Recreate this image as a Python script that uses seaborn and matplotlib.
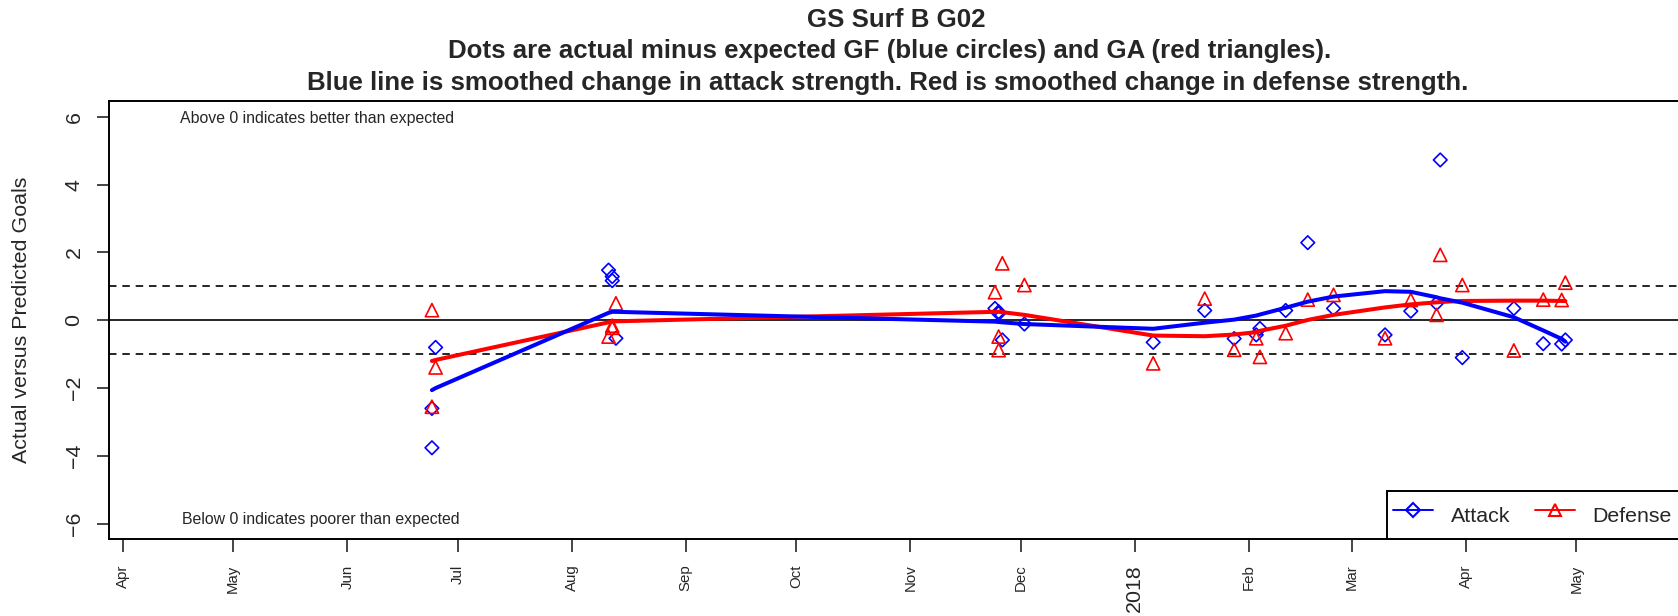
import matplotlib
matplotlib.use("Agg")
import numpy as np
import pandas as pd
import seaborn as sns
import matplotlib.pyplot as plt
import matplotlib.dates as mdates
from matplotlib.lines import Line2D

# ---------------- data ----------------
game_dates = ["2017-06-24", "2017-06-24", "2017-06-25",
              "2017-08-11", "2017-08-12", "2017-08-12", "2017-08-13",
              "2017-11-24", "2017-11-25", "2017-11-25", "2017-11-26", "2017-12-02",
              "2018-01-06", "2018-01-20", "2018-01-28", "2018-02-03", "2018-02-04",
              "2018-02-11", "2018-02-17", "2018-02-24", "2018-03-10", "2018-03-17",
              "2018-03-24", "2018-03-25", "2018-03-31", "2018-04-14", "2018-04-22",
              "2018-04-27", "2018-04-28"]
attack_diff = [-2.60, -3.76, -0.80,
               1.48, 1.29, 1.17, -0.53,
               0.35, 0.25, 0.20, -0.58, -0.11,
               -0.65, 0.29, -0.54, -0.43, -0.24,
               0.29, 2.29, 0.35, -0.43, 0.27,
               0.50, 4.73, -1.10, 0.35, -0.69,
               -0.70, -0.58]
defense_diff = [0.30, -2.55, -1.39,
                -0.48, -0.16, -0.22, 0.50,
                0.83, -0.48, -0.88, 1.68, 1.04,
                -1.27, 0.64, -0.87, -0.53, -1.08,
                -0.38, 0.61, 0.75, -0.53, 0.60,
                0.16, 1.93, 1.04, -0.89, 0.61,
                0.60, 1.11]
attack_smooth = [-2.06, -2.06, -2.00,
                 0.22, 0.25, 0.25, 0.25,
                 -0.04, -0.05, -0.05, -0.06, -0.11,
                 -0.25, -0.07, 0.02, 0.14, 0.17,
                 0.37, 0.55, 0.70, 0.86, 0.84,
                 0.68, 0.65, 0.52, 0.09, -0.30,
                 -0.55, -0.63]
defense_smooth = [-1.20, -1.20, -1.17,
                  -0.06, -0.04, -0.04, -0.03,
                  0.25, 0.25, 0.25, 0.24, 0.16,
                  -0.45, -0.47, -0.42, -0.35, -0.31,
                  -0.16, 0.01, 0.16, 0.38, 0.47,
                  0.53, 0.54, 0.57, 0.58, 0.58,
                  0.57, 0.57]
month_ticks = ["2017-04-01", "2017-05-01", "2017-06-01", "2017-07-01", "2017-08-01",
               "2017-09-01", "2017-10-01", "2017-11-01", "2017-12-01", "2018-01-01",
               "2018-02-01", "2018-03-01", "2018-04-01", "2018-05-01"]
month_labels = ["Apr", "May", "Jun", "Jul", "Aug", "Sep", "Oct", "Nov", "Dec", "2018",
                "Feb", "Mar", "Apr", "May"]
y_ticks = [-6, -4, -2, 0, 2, 4, 6]

df = pd.DataFrame({
    "date": pd.to_datetime(game_dates),
    "attack": attack_diff,
    "defense": defense_diff,
    "attack_s": attack_smooth,
    "defense_s": defense_smooth,
})

# ---------------- style ----------------
sns.set_style("white")
plt.rcParams["font.family"] = ["Liberation Sans", "DejaVu Sans"]

W, H = 1678, 616
fig = plt.figure(figsize=(W / 100, H / 100), dpi=100)
left, right, top, bottom = 108.5, 1690, 100.7, 539.3
ax = fig.add_axes([left / W, 1 - bottom / H, (right - left) / W, (bottom - top) / H])

# reference lines
ax.axhline(0, color="black", lw=1.2, zorder=1)
ax.axhline(1, color="black", lw=1.2, ls=(0, (4.5, 3.5)), zorder=1)
ax.axhline(-1, color="black", lw=1.2, ls=(0, (4.5, 3.5)), zorder=1)

# points
sns.scatterplot(data=df, x="date", y="attack", marker="D", s=48,
                facecolor="none", edgecolor="blue", linewidth=1.2, ax=ax, zorder=3)
sns.scatterplot(data=df, x="date", y="defense", marker="^", s=90,
                facecolor="none", edgecolor="red", linewidth=1.2, ax=ax, zorder=3)

# smoothed lines
sns.lineplot(data=df, x="date", y="defense_s", estimator=None, sort=True,
             color="red", lw=2.9, ax=ax, zorder=4)
sns.lineplot(data=df, x="date", y="attack_s", estimator=None, sort=True,
             color="blue", lw=2.9, ax=ax, zorder=4)

# axes limits
x0 = mdates.date2num(pd.Timestamp("2017-04-01"))
px_per_day = 3.68
ax.set_xlim(x0 + (left - 122.8) / px_per_day, x0 + (right - 122.8) / px_per_day)
y0px, px_per_unit = 320.3, 33.9
ax.set_ylim((y0px - bottom) / px_per_unit, (y0px - top) / px_per_unit)

# ticks
ax.set_xticks(mdates.date2num(pd.to_datetime(month_ticks)))
ax.set_xticklabels(month_labels, rotation=90)
ax.tick_params(axis="x", length=9, width=1.2, pad=9, labelsize=10.8, direction="out",
               bottom=True)
for lbl in ax.get_xticklabels():
    if lbl.get_text() == "2018":
        lbl.set_fontsize(15.4)
ax.set_yticks(y_ticks)
ax.set_yticklabels([str(v).replace("-", "\u2212") for v in y_ticks], rotation=90,
                   va="center")
ax.tick_params(axis="y", length=9, width=1.2, pad=9, labelsize=15.4, direction="out",
               left=True)

for sp in ax.spines.values():
    sp.set_color("black")
    sp.set_linewidth(1.4)

ax.set_xlabel("")
ax.set_ylabel("")
fig.text(22 / W, 1 - 320 / H, "Actual versus Predicted Goals", rotation=90,
         ha="center", va="center", fontsize=15.4)

# annotations
ax.text((180 - left) / (right - left), 5.94, "Above 0 indicates better than expected",
        transform=ax.get_yaxis_transform(), ha="left", va="center", fontsize=11.4)
ax.text((182 - left) / (right - left), -5.87, "Below 0 indicates poorer than expected",
        transform=ax.get_yaxis_transform(), ha="left", va="center", fontsize=11.4)

# titles
title_fs = 18.6
fig.text(896 / W, 1 - 20 / H, "GS Surf B G02", ha="center", va="center",
         fontsize=title_fs, fontweight="bold")
fig.text(890 / W, 1 - 51 / H,
         "Dots are actual minus expected GF (blue circles) and GA (red triangles).",
         ha="center", va="center", fontsize=title_fs, fontweight="bold")
fig.text(888 / W, 1 - 83 / H,
         "Blue line is smoothed change in attack strength. Red is smoothed change in defense strength.",
         ha="center", va="center", fontsize=title_fs, fontweight="bold")

# legend
handles = [Line2D([], [], color="blue", lw=1.4, marker="D", ms=7, mfc="none", mew=1.5),
           Line2D([], [], color="red", lw=1.4, marker="^", ms=9, mfc="none", mew=1.5)]
leg = fig.legend(handles, ["Attack", "Defense"], ncol=2, loc="lower left",
                 bbox_to_anchor=(1386.7 / W, 1 - bottom / H), borderaxespad=0,
                 fontsize=15.4, frameon=True, fancybox=False, edgecolor="black",
                 handlelength=1.85, handleheight=2.15, handletextpad=0.85,
                 columnspacing=1.15, borderpad=0.3)
leg.get_frame().set_linewidth(1.4)
leg.get_frame().set_alpha(1)

fig.savefig("out.png", dpi=100)
